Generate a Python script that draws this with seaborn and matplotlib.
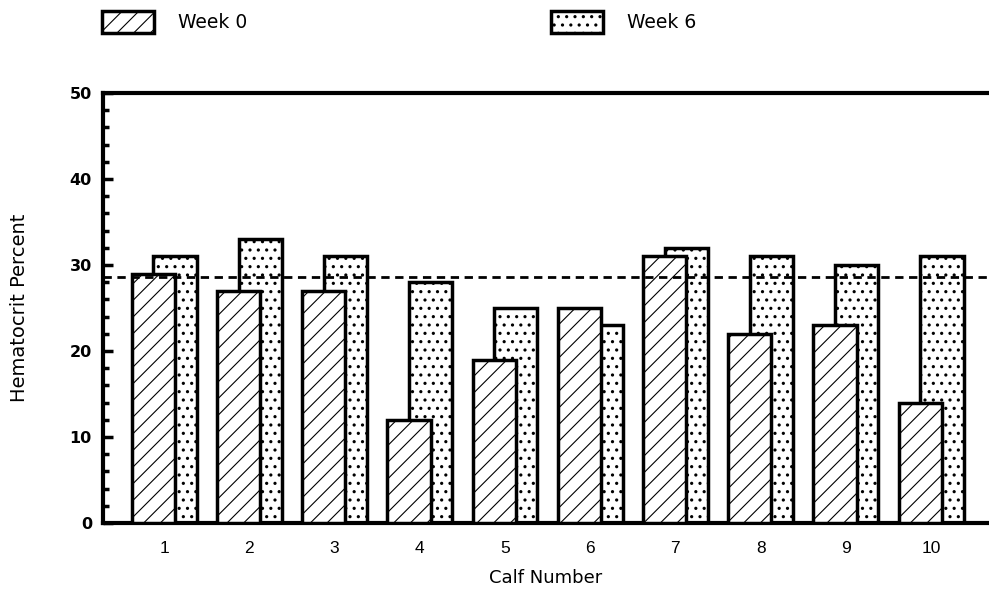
import matplotlib
matplotlib.use("Agg")
import matplotlib.pyplot as plt
import pandas as pd
import seaborn as sns
from matplotlib.patches import Patch
from matplotlib.ticker import MultipleLocator

# Hematocrit (%) per calf at week 0 and week 6
calves = ["1", "2", "3", "4", "5", "6", "7", "8", "9", "10"]
week0 = [29, 27, 27, 12, 19, 25, 31, 22, 23, 14]
week6 = [31, 33, 31, 28, 25, 23, 32, 31, 30, 31]
series = ["Week 0", "Week 6"]
reference_level = 28.6
y_ticks = [0, 10, 20, 30, 40, 50]

hatches = {"Week 0": "//", "Week 6": ".."}
hatch_widths = {"Week 0": 0.8, "Week 6": 1.1}

df = pd.DataFrame({
    "Calf": calves * 2,
    "Hematocrit": week0 + week6,
    "Week": [series[0]] * len(calves) + [series[1]] * len(calves),
})

sns.set_theme(style="white")
plt.rcParams["font.family"] = ["Liberation Sans", "DejaVu Sans"]
plt.rcParams["hatch.linewidth"] = 0.8
for key in ("text.color", "axes.labelcolor", "xtick.color", "ytick.color"):
    plt.rcParams[key] = "black"


def style_hatch(patch, name):
    patch.set_hatch(hatches[name])
    if hasattr(patch, "set_hatch_linewidth"):
        patch.set_hatch_linewidth(hatch_widths[name])


W, H = 989, 596
fig = plt.figure(figsize=(W / 100, H / 100), dpi=100)
ax = fig.add_axes([103 / W, 1 - 523 / H, 1 - 103 / W, (523 - 93) / H])

bar_w = 0.508
sns.barplot(
    data=df, x="Calf", y="Hematocrit", hue="Week",
    order=calves, hue_order=series,
    palette={s: "white" for s in series},
    width=bar_w, dodge=True, saturation=1,
    edgecolor="black", linewidth=2.5,
    errorbar=None, legend=False, ax=ax,
)

# widen the dodged bars so each pair overlaps, Week 0 in front
for cont, name, z in zip(ax.containers, series, (3, 2)):
    for bar in cont:
        cx = bar.get_x() + bar.get_width() / 2
        bar.set_x(cx - bar_w / 2)
        bar.set_width(bar_w)
        style_hatch(bar, name)
        bar.set_zorder(z)

ax.axhline(reference_level, color="black", lw=2.0, ls=(0, (3, 2)), zorder=4)

ax.set_xlim(-0.718, 9.68)
ax.set_ylim(0, 50)
ax.set_yticks(y_ticks)
ax.yaxis.set_minor_locator(MultipleLocator(2))

for side in ("left", "bottom", "top"):
    ax.spines[side].set_visible(True)
    ax.spines[side].set_color("black")
    ax.spines[side].set_linewidth(3)
ax.spines["right"].set_visible(False)

ax.tick_params(axis="y", which="major", direction="in", left=True,
               length=7, width=2.5, color="black", pad=8, labelsize=11.5)
ax.tick_params(axis="y", which="minor", direction="in", left=True,
               length=4, width=2.5, color="black")
ax.tick_params(axis="x", length=0, pad=13, labelsize=12.5)
for lbl in ax.get_yticklabels():
    lbl.set_fontweight("bold")
    lbl.set_family(["DejaVu Sans"])
for lbl in ax.get_xticklabels():
    lbl.set_family(["Liberation Sans Narrow", "Liberation Sans", "DejaVu Sans"])

ax.set_xlabel("Calf Number", fontsize=13, family=["DejaVu Sans"])
ax.set_ylabel("Hematocrit Percent", fontsize=14, family=["DejaVu Sans"])
ax.xaxis.set_label_coords(0.5, -0.108)
ax.yaxis.set_label_coords(-0.083, 0.5)

# one legend entry per series, spread across the top
legend_x = {"Week 0": 102, "Week 6": 551}
for s in series:
    handle = Patch(facecolor="white", edgecolor="black", linewidth=2.5, label=s)
    style_hatch(handle, s)
    leg = fig.legend(handles=[handle], loc="upper left",
                     bbox_to_anchor=(legend_x[s] / W, 1 - 11 / H), frameon=False,
                     prop={"family": ["DejaVu Sans"], "size": 13.5},
                     handlelength=2.75, handleheight=1.4, handletextpad=1.3,
                     borderpad=0, borderaxespad=0)
    for p in leg.get_patches():
        style_hatch(p, s)

fig.savefig("out.png", dpi=100)
